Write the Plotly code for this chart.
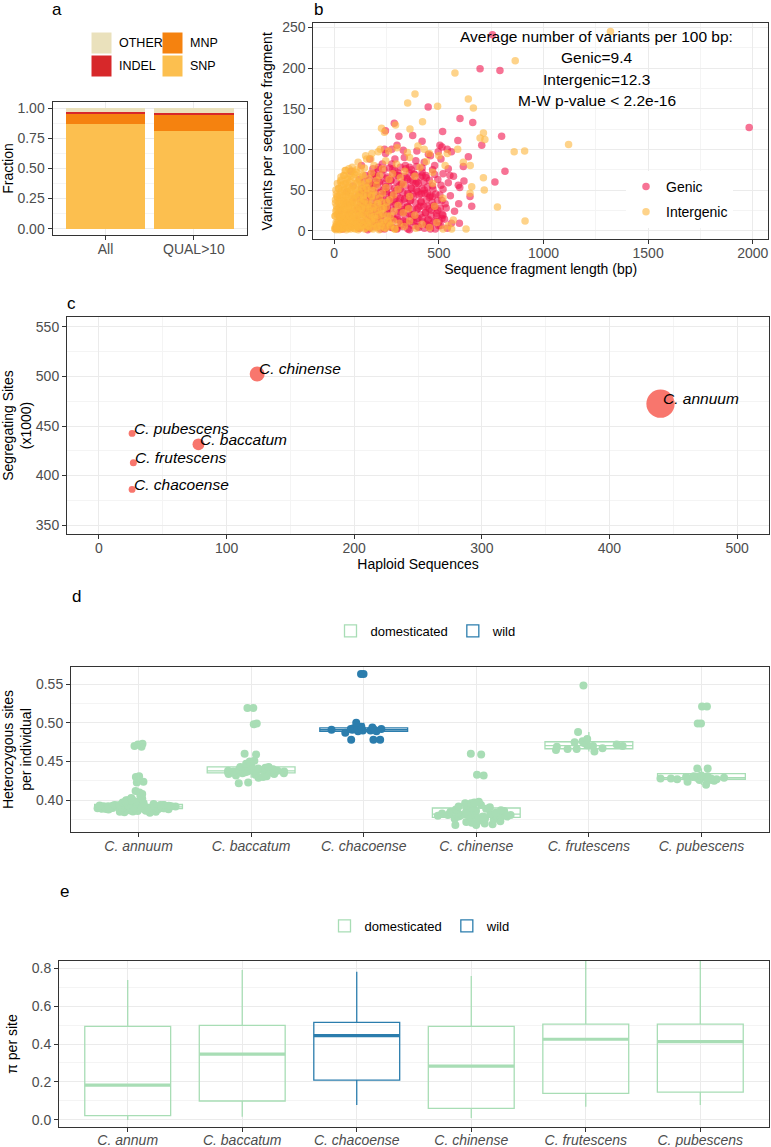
import plotly.graph_objects as go

W, H = 771, 1147
FONT = "Liberation Sans, Arial, Helvetica, sans-serif"
TICK_GREY = "#4D4D4D"

# ---------------- panel a : variant type fractions ----------------
a_categories = ["All", "QUAL>10"]
snp_frac = [0.867, 0.811]
mnp_frac = [0.086, 0.133]
indel_frac = [0.019, 0.019]
other_frac = [0.028, 0.037]
a_types = ["SNP", "MNP", "INDEL", "OTHER"]
a_colors = {"SNP": "#FCBF4F", "MNP": "#F5820F", "INDEL": "#D7282A", "OTHER": "#EAE1BC"}

# ---------------- panel b : variants per fragment ----------------
genic_points = [
    (10,3),(25,8),(40,2),(60,12),(80,5),(100,15),(120,3),(140,9),(160,1),(180,13),(200,6),(220,17),
    (240,2),(260,10),(280,4),(300,14),(320,7),(340,18),(360,1),(380,11),(400,5),(420,16),(440,8),
    (460,2),(480,12),(500,6),(520,19),(540,3),(560,9),(150,18),(250,19),(350,9),(450,14),(300,2),(200,11),
    (30,25),(55,33),(75,22),(95,40),(115,28),(135,36),(155,24),(175,42),(195,30),(215,21),(235,38),
    (255,27),(275,44),(295,32),(315,23),(335,39),(355,29),(375,45),(395,26),(415,35),(435,22),(455,41),
    (475,31),(495,25),(515,37),(535,28),(555,43),(575,24),(595,33),(165,31),(265,35),(365,37),(445,30),
    (505,44),(225,29),(325,26),
    (60,48),(90,55),(120,63),(145,50),(170,58),(195,66),(220,47),(245,54),(270,62),(295,49),(320,57),
    (345,65),(370,52),(395,60),(420,68),(445,46),(470,55),(495,63),(520,51),(545,59),(570,67),(600,53),
    (620,61),(200,57),(300,68),(400,48),(480,69),(250,64),
    (80,73),(130,80),(170,88),(210,75),(245,95),(275,82),(305,71),(335,90),(360,78),(390,86),(420,72),
    (450,94),(480,80),(510,88),(545,76),(275,100),(330,99),(300,105),(395,98),(460,92),(515,103),
    (540,100),(560,97),
    (160,5),(185,22),(210,40),(230,8),(250,48),(270,15),(290,38),(310,55),(330,12),(350,46),(370,20),
    (390,58),(410,30),(430,50),(450,6),(470,42),(490,18),(510,56),(530,33),(190,70),(230,82),(280,76),
    (340,80),(380,70),(430,84),(470,75),(520,70),(170,45),(215,60),(265,5),(315,40),(365,62),(415,45),
    (465,25),(515,15),(145,35),(125,45),(105,25),(85,35),(65,20),(45,15),(25,18),(350,30),(400,15),
    (440,65),(290,88),(240,30),(185,55),
    (115,4),(142,6),(168,3),(193,5),(221,2),(247,6),(274,4),(298,3),(326,5),(352,2),(377,6),(404,4),
    (431,3),(456,5),(483,2),(509,6),
    (108,12),(133,10),(159,13),(186,11),(212,14),(238,10),(263,12),(291,13),(317,11),(343,10),(369,14),
    (396,12),(422,11),(447,13),(474,10),(501,12),(527,14),
    (121,20),(147,22),(174,19),(199,21),(226,18),(252,22),(279,20),(305,19),(331,23),(358,21),(384,18),
    (410,20),(437,22),(463,19),(489,21),(516,20),
    (112,28),(138,30),(165,27),(191,29),(217,26),(244,30),(270,28),(296,27),(322,31),(349,29),(375,26),
    (401,28),(428,30),(454,27),(480,29),(507,28),
    (126,36),(152,38),(178,35),(205,37),(231,34),(257,38),(284,36),(310,35),(336,39),(362,37),(389,34),
    (415,36),(441,38),(468,35),(494,37),
    (117,44),(143,46),(170,43),(196,45),(222,42),(249,46),(275,44),(301,43),(327,47),(354,45),(380,42),
    (406,44),(433,46),(459,43),(485,45),
    (131,52),(157,54),(183,51),(210,53),(236,50),(262,54),(288,52),(315,51),(341,55),(367,53),(393,50),
    (420,52),(446,54),(472,51),
    (140,60),(166,62),(192,59),(219,61),(245,58),(271,62),(297,60),(324,59),(350,63),(376,61),(402,58),
    (429,60),(455,62),
    (150,68),(176,70),(202,67),(228,69),(254,66),(280,70),(307,68),(333,67),(359,71),(385,69),(411,66),
    (438,68),
    (185,76),(211,78),(237,75),(263,77),(289,74),(316,78),(342,76),(368,75),(394,79),(420,77),
    (756,241),(697,199),(792,197),(1983,127),(449,152),(601,138),(662,133),(287,132),(245,123),
    (309,116),(375,117),(518,122),(591,111),(705,105),(800,116),(816,73),(768,60),(657,30),(649,42),
    (641,91),(617,79),(593,56),(553,68),(505,105),(598,9),(497,97),(420,110),(240,100),
]
intergenic_points = [
    (3,2),(6,5),(9,1),(12,8),(15,3),(18,11),(22,6),(25,1),(28,14),(32,4),(35,9),(38,2),(42,12),(45,6),
    (48,15),(52,3),(55,10),(58,1),(62,7),(66,13),(70,4),(74,9),(78,2),(82,14),(86,6),(90,11),(95,3),
    (100,8),(105,13),(110,5),(115,1),(120,10),(126,4),(132,14),(138,7),(145,2),(152,11),(160,6),
    (168,13),(176,3),(185,9),(195,15),(205,5),(215,1),(228,10),(240,4),(255,12),(270,7),(290,2),
    (310,9),(335,5),(360,12),(390,3),(420,8),(455,4),(490,10),(520,2),(545,6),
    (4,18),(8,24),(11,30),(14,20),(19,27),(23,33),(27,17),(31,25),(36,31),(40,21),(44,28),(49,34),
    (53,19),(57,26),(61,32),(65,22),(69,29),(73,35),(77,18),(81,24),(86,31),(91,20),(96,27),(101,34),
    (106,17),(112,23),(118,30),(124,21),(130,28),(137,34),(144,19),(151,26),(159,32),(167,22),(176,29),
    (186,17),(197,25),(209,33),(222,20),(236,28),(251,35),(268,18),(286,24),(305,31),(330,22),(355,27),
    (385,19),
    (6,38),(10,45),(16,41),(21,52),(26,39),(30,47),(35,56),(39,43),(44,37),(48,50),(53,58),(58,42),
    (63,48),(68,55),(73,40),(78,46),(84,53),(90,38),(96,44),(102,51),(108,58),(115,41),(122,47),
    (130,54),(138,39),(147,45),(156,52),(166,59),(177,43),(189,49),(202,56),(216,40),(231,46),(247,53),
    (265,38),(284,44),(305,51),(330,57),(360,42),
    (32,62),(45,68),(55,74),(64,63),(75,70),(86,78),(95,65),(104,72),(114,84),(124,61),(134,69),
    (144,77),(155,88),(166,64),(178,71),(190,80),(203,62),(217,68),(231,76),(246,86),(262,63),(279,70),
    (297,82),(316,65),(337,73),(360,90),(385,67),(410,78),(440,85),(470,72),(500,92),(530,80),
    (150,92),(180,95),(220,100),(260,98),(300,102),(350,96),(400,104),(430,100),(455,95),(240,121),
    (210,97),(175,88),
    (4,3),(16,5),(29,2),(42,4),(56,6),(70,3),(85,5),(100,2),(116,4),(132,6),(149,3),(167,5),(185,2),
    (204,4),(224,6),(245,3),(267,5),(290,2),
    (9,10),(22,12),(35,9),(49,11),(63,13),(78,10),(93,12),(109,9),(125,11),(142,13),(160,10),(178,12),
    (197,9),(217,11),(238,13),(260,10),(283,12),
    (5,18),(17,20),(30,17),(44,19),(58,21),(73,18),(88,20),(104,17),(120,19),(137,21),(155,18),(173,20),
    (192,17),(212,19),(233,21),(255,18),
    (11,26),(24,28),(38,25),(52,27),(67,29),(82,26),(98,28),(114,25),(131,27),(149,29),(167,26),
    (186,28),(206,25),(227,27),(249,29),
    (6,34),(19,36),(33,33),(47,35),(62,37),(77,34),(93,36),(110,33),(127,35),(145,37),(164,34),(184,36),
    (205,33),(227,35),
    (13,42),(27,44),(41,41),(56,43),(71,45),(87,42),(104,44),(121,41),(139,43),(158,45),(178,42),(199,44),
    (8,50),(22,52),(36,49),(51,51),(66,53),(82,50),(99,52),(117,49),(136,51),(156,53),(177,50),
    (15,58),(30,60),(45,57),(61,59),(77,61),(94,58),(112,60),(131,57),(151,59),
    (32,66),(48,68),(64,65),(81,67),(99,69),(118,66),(138,68),
    (52,74),(70,76),(88,73),(107,75),(127,77),
    (1320,245),(865,209),(577,194),(386,168),(351,157),(641,162),(665,151),(494,153),(226,126),
    (293,130),(362,125),(422,134),(713,120),(720,112),(697,114),(1120,106),(912,12),(780,29),(860,97),
    (910,98),(713,65),(717,50),(569,13),(561,2),(630,2),(657,54),(649,46),(617,84),(650,80),(590,100),
    (540,95),(470,58),(520,40),(480,30),
]
b_stats_lines = ["Average number of variants per 100 bp:", "Genic=9.4", "Intergenic=12.3",
                 "M-W p-value < 2.2e-16"]
GENIC_COLOR = "#F2164E"
INTER_COLOR = "#FDB53C"

# ---------------- panel c : segregating sites ----------------
c_species = ["C. pubescens", "C. baccatum", "C. chinense", "C. frutescens", "C. chacoense", "C. annuum"]
c_haploid = [26, 78, 124, 27, 26, 440]
c_segsites = [442.5, 431.5, 502.5, 413, 386, 472.5]
C_COLOR = "#F8766D"

# ---------------- panel d : heterozygous sites per individual ----------------
d_categories = ["C. annuum", "C. baccatum", "C. chacoense", "C. chinense", "C. frutescens", "C. pubescens"]
het_annuum = [
    0.3840, 0.3846, 0.3850, 0.3853, 0.3855, 0.3858, 0.3861, 0.3864, 0.3868, 0.3870, 0.3873, 0.3875,
    0.3877, 0.3880, 0.3882,
    0.3884, 0.3885, 0.3887, 0.3886, 0.3889, 0.3888, 0.3891, 0.3890, 0.3893, 0.3892, 0.3894, 0.3896,
    0.3895, 0.3897, 0.3899, 0.3898, 0.3900, 0.3902, 0.3901, 0.3903, 0.3905, 0.3904, 0.3906, 0.3902,
    0.3897, 0.3893, 0.3889, 0.3886, 0.3907, 0.3908,
    0.3910, 0.3912, 0.3915, 0.3911, 0.3918, 0.3920, 0.3922, 0.3917, 0.3925, 0.3921, 0.3928, 0.3930,
    0.3926, 0.3932, 0.3929, 0.3934, 0.3936, 0.3931, 0.3938, 0.3940, 0.3913, 0.3919, 0.3924, 0.3927,
    0.3933, 0.3937, 0.3914, 0.3923, 0.3935, 0.3939,
    0.473, 0.472, 0.470, 0.469, 0.431, 0.430, 0.424, 0.423, 0.412, 0.410, 0.408, 0.405, 0.403, 0.402,
    0.401, 0.400, 0.400, 0.399, 0.398, 0.398, 0.397, 0.396, 0.396, 0.395, 0.395,
]
het_baccatum = [0.519, 0.519, 0.498, 0.499, 0.460, 0.459, 0.451, 0.450, 0.447, 0.445, 0.444, 0.443,
                0.443, 0.442, 0.441, 0.441, 0.440, 0.440, 0.439, 0.439, 0.439, 0.438, 0.438, 0.438,
                0.438, 0.437, 0.437, 0.437, 0.437, 0.437, 0.436, 0.436, 0.436, 0.436, 0.436, 0.435,
                0.435, 0.435, 0.434, 0.434, 0.433, 0.432, 0.431, 0.430, 0.429, 0.423, 0.422]
het_chacoense = [0.563, 0.563, 0.500, 0.495, 0.494, 0.493, 0.493, 0.492, 0.492, 0.491, 0.491, 0.491,
                 0.490, 0.490, 0.489, 0.489, 0.487, 0.478, 0.478, 0.478]
het_chinense = [0.460, 0.459, 0.433, 0.432, 0.398, 0.397, 0.396, 0.396, 0.395, 0.394, 0.393, 0.392,
                0.391, 0.390, 0.389, 0.388, 0.387, 0.386, 0.386, 0.385, 0.385, 0.384, 0.384, 0.383,
                0.383, 0.383, 0.382, 0.382, 0.382, 0.381, 0.381, 0.381, 0.381, 0.380, 0.380, 0.380,
                0.379, 0.379, 0.379, 0.378, 0.378, 0.377, 0.377, 0.376, 0.376, 0.375, 0.374, 0.373,
                0.372, 0.371, 0.370, 0.369, 0.368, 0.368]
het_frutescens = [0.548, 0.488, 0.479, 0.476, 0.475, 0.474, 0.472, 0.471, 0.470, 0.470, 0.469, 0.467,
                  0.466, 0.466, 0.465, 0.463]
het_pubescens = [0.521, 0.521, 0.499, 0.499, 0.441, 0.441, 0.432, 0.431, 0.431, 0.430, 0.430, 0.429,
                 0.429, 0.429, 0.428, 0.428, 0.428, 0.427, 0.427, 0.427, 0.426, 0.426, 0.425, 0.424,
                 0.420]
wild_species = ["C. chacoense"]

# ---------------- panel e : nucleotide diversity ----------------
e_categories = ["C. annum", "C. baccatum", "C. chacoense", "C. chinense", "C. frutescens", "C. pubescens"]
pi_lowerfence = [0.000, 0.017, 0.079, 0.010, 0.070, 0.079]
pi_q1 = [0.023, 0.100, 0.210, 0.061, 0.140, 0.147]
pi_median = [0.184, 0.347, 0.444, 0.284, 0.425, 0.412]
pi_q3 = [0.493, 0.498, 0.514, 0.493, 0.505, 0.505]
pi_upperfence = [0.737, 0.790, 0.780, 0.758, 0.850, 0.850]
e_wild = ["C. chacoense"]

DOM_COLOR = "#A8DDB5"
WILD_COLOR = "#2B7DAD"


def xd(a, b):
    return [a / W, b / W]


def yd(top, bottom):
    return [1 - bottom / H, 1 - top / H]


def axis(**kw):
    d = dict(showline=True, mirror=True, linecolor="#333333", linewidth=1,
             showgrid=True, gridcolor="#EBEBEB", gridwidth=1.1,
             ticks="outside", ticklen=4, tickcolor="#333333", tickwidth=1,
             tickfont=dict(family=FONT, size=14, color=TICK_GREY),
             zeroline=False, automargin=False, fixedrange=True,
             title_font=dict(family=FONT, size=14, color="black"))
    d.update(kw)
    return d


def minor(dt, t0):
    return dict(dtick=dt, tick0=t0, showgrid=True, gridcolor="#F4F4F4", gridwidth=0.6, ticks="")


fig = go.Figure()

# ---- a ----
a_values = {"SNP": snp_frac, "MNP": mnp_frac, "INDEL": indel_frac, "OTHER": other_frac}
for t in a_types:
    fig.add_trace(go.Bar(x=a_categories, y=a_values[t], name=t, marker_color=a_colors[t],
                         marker_line_width=0, width=0.9, xaxis="x", yaxis="y", showlegend=False))

# ---- b ----
fig.add_trace(go.Scatter(x=[p[0] for p in genic_points], y=[p[1] for p in genic_points],
                         mode="markers", name="Genic", legend="legend2", legendgroup="genic",
                         marker=dict(color=GENIC_COLOR, size=7.5, opacity=0.6, line_width=0),
                         xaxis="x2", yaxis="y2"))
fig.add_trace(go.Scatter(x=[p[0] for p in intergenic_points], y=[p[1] for p in intergenic_points],
                         mode="markers", name="Intergenic", legend="legend2", legendgroup="inter",
                         marker=dict(color=INTER_COLOR, size=7.5, opacity=0.6, line_width=0),
                         xaxis="x2", yaxis="y2"))

# ---- c ----
fig.add_trace(go.Scatter(x=c_haploid, y=c_segsites, mode="markers", showlegend=False,
                         marker=dict(color=C_COLOR, size=c_haploid, sizemode="area", sizeref=1.1,
                                     opacity=1, line_width=0),
                         xaxis="x3", yaxis="y3"))

# ---- d ----
het_values = {"C. annuum": het_annuum, "C. baccatum": het_baccatum, "C. chacoense": het_chacoense,
              "C. chinense": het_chinense, "C. frutescens": het_frutescens, "C. pubescens": het_pubescens}
for status, color in (("domesticated", DOM_COLOR), ("wild", WILD_COLOR)):
    xs, ys = [], []
    for sp in d_categories:
        if (sp in wild_species) == (status == "wild"):
            xs += [sp] * len(het_values[sp])
            ys += het_values[sp]
    fig.add_trace(go.Box(x=xs, y=ys, name=status, legend="legend3", boxpoints="all", jitter=1,
                         pointpos=0, width=0.78, whiskerwidth=0, line=dict(color=color, width=1.3),
                         fillcolor="rgba(255,255,255,0)",
                         marker=dict(color=color, size=8, line_width=0),
                         xaxis="x4", yaxis="y4"))

# ---- e ----
for status, color in (("domesticated", DOM_COLOR), ("wild", WILD_COLOR)):
    idx = [i for i, sp in enumerate(e_categories) if (sp in e_wild) == (status == "wild")]
    fig.add_trace(go.Box(x=[e_categories[i] for i in idx], q1=[pi_q1[i] for i in idx],
                         median=[pi_median[i] for i in idx], q3=[pi_q3[i] for i in idx],
                         lowerfence=[pi_lowerfence[i] for i in idx],
                         upperfence=[pi_upperfence[i] for i in idx],
                         name=status, legend="legend4", boxpoints=False, width=0.75, whiskerwidth=0,
                         line=dict(color=color, width=1.3), fillcolor="rgba(255,255,255,0)",
                         xaxis="x5", yaxis="y5"))
# thick median bars (ggplot's fattened median line)
for status, color in (("domesticated", DOM_COLOR), ("wild", WILD_COLOR)):
    idx = [i for i, sp in enumerate(e_categories) if (sp in e_wild) == (status == "wild")]
    meds = [pi_median[i] for i in idx]
    fig.add_trace(go.Box(x=[e_categories[i] for i in idx], q1=meds, median=meds, q3=meds,
                         lowerfence=meds, upperfence=meds, showlegend=False, hoverinfo="skip",
                         boxpoints=False, width=0.75, whiskerwidth=0, line=dict(color=color, width=3.2),
                         fillcolor="rgba(255,255,255,0)", xaxis="x5", yaxis="y5"))

annotations = []
# panel letters
for letter, px, py in (("a", 57, 9), ("b", 318, 9), ("c", 71, 303), ("d", 76, 596), ("e", 64, 891)):
    annotations.append(dict(text=letter, x=px / W, y=1 - py / H, xref="paper", yref="paper",
                            xanchor="center", yanchor="middle", showarrow=False,
                            font=dict(family=FONT, size=17, color="black")))
# b stats text
for line, py in zip(b_stats_lines, (36, 58, 80, 101)):
    annotations.append(dict(text=line.replace("<", "&lt;"), x=596.5 / W, y=1 - py / H, xref="paper",
                            yref="paper", xanchor="center", yanchor="middle", showarrow=False,
                            font=dict(family=FONT, size=15.5, color="black")))
# c labels
for sp, hx, sy in zip(c_species, c_haploid, c_segsites):
    annotations.append(dict(text="<i>" + sp + "</i>", x=hx, y=sy, xref="x3", yref="y3",
                            xanchor="left", yanchor="middle", yshift=5, showarrow=False,
                            font=dict(family=FONT, size=15.5, color="black")))

# panel a legend (2 x 2 keys)
shapes = []
a_key_layout = {"OTHER": (91, 32), "INDEL": (91, 55), "MNP": (162, 32), "SNP": (162, 55)}
for t, (kx, ky) in a_key_layout.items():
    shapes.append(dict(type="rect", xref="paper", yref="paper", x0=kx / W, x1=(kx + 21) / W,
                       y0=1 - (ky + 22) / H, y1=1 - ky / H, fillcolor=a_colors[t],
                       line=dict(color="white", width=1)))
    annotations.append(dict(text=t, x=(kx + 26) / W, y=1 - (ky + 11) / H, xref="paper", yref="paper",
                            xanchor="left", yanchor="middle", showarrow=False,
                            font=dict(family=FONT, size=12.5, color="black")))

cat_font = dict(family=FONT, size=14, color=TICK_GREY, style="italic")

fig.update_layout(
    width=W, height=H, margin=dict(l=0, r=0, t=0, b=0),
    paper_bgcolor="white", plot_bgcolor="white",
    barmode="stack", boxmode="overlay", bargap=0.1,
    font=dict(family=FONT, size=14, color="black"),
    showlegend=True,
    annotations=annotations, shapes=shapes,
    xaxis=axis(domain=xd(52.5, 247), anchor="y", type="category", range=[-0.6, 1.6],
               ticklabelstandoff=-3),
    yaxis=axis(domain=yd(102.3, 234.7), anchor="x", range=[-0.05, 1.05],
               tickvals=[0, 0.25, 0.5, 0.75, 1.0], tickformat=".2f", minor=minor(0.125, 0),
               title=dict(text="Fraction", standoff=4)),
    xaxis2=axis(domain=xd(313.3, 768), anchor="y2", range=[-100, 2073], tick0=0, dtick=500,
                minor=minor(250, 0), ticklabelstandoff=-3,
                title=dict(text="Sequence fragment length (bp)", standoff=4)),
    yaxis2=axis(domain=yd(23.3, 239.3), anchor="x2", range=[-10.6, 255], tick0=0, dtick=50,
                minor=minor(25, 0), title=dict(text="Variants per sequence fragment", standoff=6)),
    xaxis3=axis(domain=xd(67, 769), anchor="y3", range=[-25, 525], tick0=0, dtick=100,
                minor=minor(50, 0), ticklabelstandoff=-3,
                title=dict(text="Haploid Sequences", standoff=4)),
    yaxis3=axis(domain=yd(317, 534), anchor="x3", range=[341, 560], tickvals=[350, 400, 450, 500, 550],
                minor=minor(25, 325), title=dict(text="Segregating Sites<br>(x1000)", standoff=6)),
    xaxis4=axis(domain=xd(71, 769), anchor="y4", type="category", categoryorder="array",
                categoryarray=d_categories, range=[-0.6, 5.6], tickfont=cat_font,
                ticklabelstandoff=-3),
    yaxis4=axis(domain=yd(667, 832), anchor="x4", range=[0.359, 0.572],
                tickvals=[0.40, 0.45, 0.50, 0.55], tickformat=".2f", minor=minor(0.025, 0.375),
                title=dict(text="Heterozygous sites<br>per individual", standoff=6)),
    xaxis5=axis(domain=xd(59, 769), anchor="y5", type="category", categoryorder="array",
                categoryarray=e_categories, range=[-0.6, 5.6], tickfont=cat_font,
                ticklabelstandoff=-4),
    yaxis5=axis(domain=yd(961, 1127), anchor="x5", range=[-0.037, 0.837],
                tickvals=[0, 0.2, 0.4, 0.6, 0.8], tickformat=".1f", minor=minor(0.1, 0),
                title=dict(text="π per site", standoff=10)),
    legend2=dict(x=626 / W, y=1 - 171 / H, xanchor="left", yanchor="top", bgcolor="white",
                 font=dict(family=FONT, size=14, color="black"), itemwidth=30, tracegroupgap=4),
    legend3=dict(orientation="h", x=426 / W, y=1 - 631 / H, xanchor="center", yanchor="middle",
                 bgcolor="rgba(0,0,0,0)", font=dict(family=FONT, size=13, color="black")),
    legend4=dict(orientation="h", x=420 / W, y=1 - 926 / H, xanchor="center", yanchor="middle",
                 bgcolor="rgba(0,0,0,0)", font=dict(family=FONT, size=13, color="black")),
)

fig.write_html("out.html", config={"displayModeBar": False},
               post_script="document.body.style.margin='0';"
                           "document.documentElement.style.overflow='hidden';")
